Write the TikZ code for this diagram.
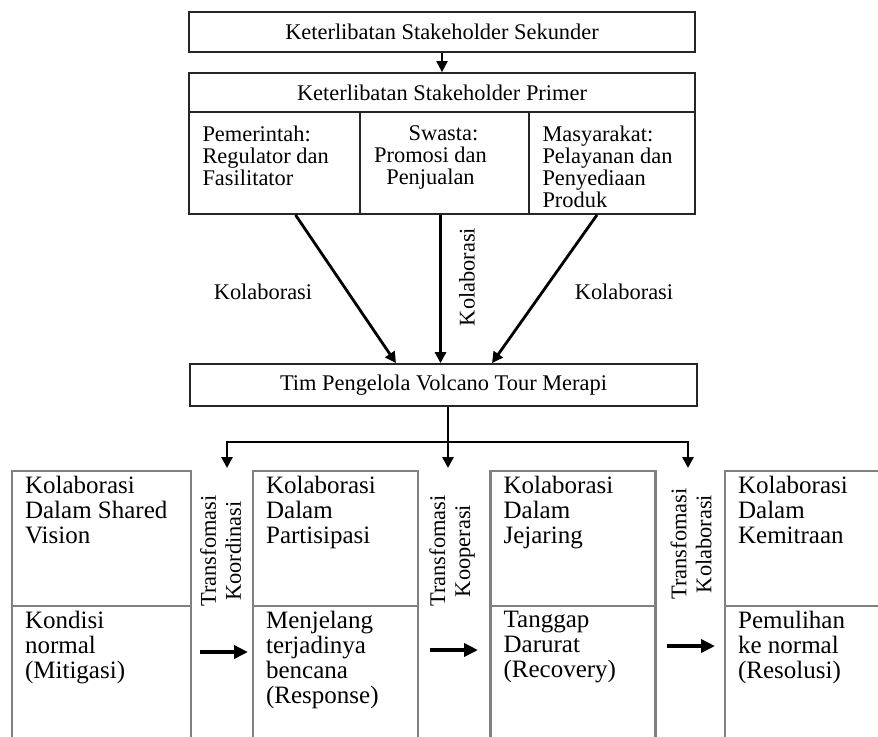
\documentclass[tikz,border=0pt]{standalone}
\usepackage{fontspec}
\setmainfont{Liberation Serif}
\usetikzlibrary{positioning,arrows.meta,calc}
\newcommand{\fsmall}{\fontsize{11.2}{11}\selectfont}
\newcommand{\fbig}{\fontsize{12.5}{12.5}\selectfont}
\tikzset{
  topbox/.style={draw=black!85, line width=0.9pt, minimum width=253pt,
                 inner sep=0pt, font=\fsmall},
  cell/.style={draw=black!85, line width=0.9pt, minimum height=51pt, inner sep=0pt},
  celltxt/.style={align=left, inner xsep=7pt, inner ysep=7pt, font=\fsmall},
  stage/.style={draw=black!50, line width=1.3pt, inner sep=0pt, minimum width=82.5pt},
  stagetxt/.style={align=left, inner xsep=7pt, inner ysep=3pt, font=\fbig},
  trans/.style={rotate=90, align=center, inner sep=0pt,
                font={\fontsize{11.2}{12.5}\selectfont}},
  flow/.style={-{Triangle[length=5.5pt,width=5.5pt]}, line width=1.4pt},
  stagearrow/.style={-{Triangle[length=7pt,width=6.5pt]}, line width=2pt},
}

\begin{document}
\begin{tikzpicture}[x=0.5pt, y=-0.5pt, font=\fsmall]
\useasboundingbox (0,0) rectangle (878,736);

% stakeholder block
\node[topbox, minimum height=20pt] (sek) at (442,32) {Keterlibatan Stakeholder Sekunder};
\node[topbox, minimum height=19.5pt] (prim) at (442,92.5) {Keterlibatan Stakeholder Primer};
\node[cell, minimum width=85.5pt] (pem) at (274.5,163) {};
\node[cell, minimum width=84.5pt] (swa) at (444.5,163) {};
\node[cell, minimum width=83pt] (mas) at (612,163) {};
\node[celltxt, anchor=north west] (pemtxt) at (pem.north west)
  {Pemerintah:\\Regulator dan\\Fasilitator};
\node[celltxt, align=center, anchor=north] (swatxt) at ([xshift=-7pt]swa.north)
  {\hspace*{13pt}Swasta:\\Promosi dan\\Penjualan};
\node[celltxt, anchor=north west] (mastxt) at (mas.north west)
  {Masyarakat:\\Pelayanan dan\\Penyediaan\\Produk};
\draw[flow, line width=1.1pt] (sek) -- (prim);

% pengelola
\node[topbox, minimum width=253.5pt, minimum height=21pt] (tim) at (443.5,385)
  {Tim Pengelola Volcano Tour Merapi};
\draw[flow] ([xshift=10.5pt]pem.south) -- ([xshift=-23.75pt]tim.north);
\draw[flow] ([xshift=-2pt]swa.south) -- ([xshift=-2pt]swa.south |- tim.north);
\draw[flow] ([xshift=-7.5pt]mas.south) -- ([xshift=24.25pt]tim.north);
\node (kol1) at (263,292) {Kolaborasi};
\node[rotate=90] (kol2) at (467,277) {Kolaborasi};
\node (kol3) at (624,292) {Kolaborasi};

% tahapan
\node[stage, minimum width=89.5pt, minimum height=67.5pt] (up1) at (101.5,538.5) {};
\node[stage, minimum width=89.5pt, minimum height=77pt] (low1) at (101.5,683) {};
\node[stage, minimum height=67.5pt] (up2) at (335.5,538.5) {};
\node[stage, minimum height=77pt] (low2) at (335.5,683) {};
\node[stage, minimum height=67.5pt] (up3) at (573,538.5) {};
\node[stage, minimum height=77pt] (low3) at (573,683) {};
\node[stage, minimum height=67.5pt] (up4) at (807.5,538.5) {};
\node[stage, minimum height=77pt] (low4) at (807.5,683) {};

\node[stagetxt, anchor=north west] (up1txt) at (up1.north west) {Kolaborasi\\Dalam Shared\\Vision};
\node[stagetxt, anchor=north west] (up2txt) at (up2.north west) {Kolaborasi\\Dalam\\Partisipasi};
\node[stagetxt, anchor=north west] (up3txt) at (up3.north west) {Kolaborasi\\Dalam\\Jejaring};
\node[stagetxt, anchor=north west] (up4txt) at (up4.north west) {Kolaborasi\\Dalam\\Kemitraan};
\node[stagetxt, anchor=north west] (low1txt) at (low1.north west) {Kondisi\\normal\\(Mitigasi)};
\node[stagetxt, anchor=north west] (low2txt) at (low2.north west) {Menjelang\\terjadinya\\bencana\\(Response)};
\node[stagetxt, anchor=north west] (low3txt) at (low3.north west) {Tanggap\\Darurat\\(Recovery)};
\node[stagetxt, anchor=north west] (low4txt) at (low4.north west) {Pemulihan\\ke normal\\(Resolusi)};

\node[trans] (tr1) at (220.5,551) {Transfomasi\\Koordinasi};
\node[trans] (tr2) at (452,551) {Transfomasi\\Kooperasi};
\node[trans] (tr3) at (691,544) {Transfomasi\\Kolaborasi};

% percabangan
\coordinate (split) at (448,442);
\coordinate (d1) at (227,468);
\coordinate (d2) at (448,468);
\coordinate (d3) at (688,468);
\draw[line width=1.4pt] (tim.south -| split) -- (split);
\draw[flow] (split) -| (d1);
\draw[flow] (split) -- (d2);
\draw[flow] (split) -| (d3);

% perpindahan tahap
\coordinate (h1s) at (200,652); \coordinate (h1e) at (248,652);
\coordinate (h2s) at (430,650); \coordinate (h2e) at (478,650);
\coordinate (h3s) at (667,646); \coordinate (h3e) at (715,646);
\draw[stagearrow] (h1s) -- (h1e);
\draw[stagearrow] (h2s) -- (h2e);
\draw[stagearrow] (h3s) -- (h3e);
\end{tikzpicture}
\end{document}
